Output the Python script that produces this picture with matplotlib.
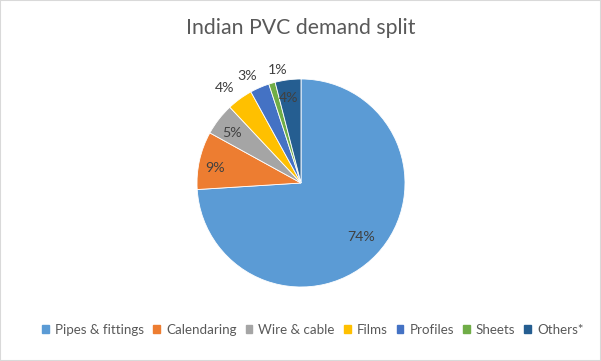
import numpy as np
import matplotlib
matplotlib.use('Agg')
import matplotlib.pyplot as plt
from matplotlib.patches import Rectangle

# data
categories = ['Pipes & fittings', 'Calendaring', 'Wire & cable', 'Films',
              'Profiles', 'Sheets', 'Others*']
shares = [74, 9, 5, 4, 3, 1, 4]
colors = ['#5B9BD5', '#ED7D31', '#A5A5A5', '#FFC000', '#4472C4', '#70AD47', '#255E91']
# label placement (fraction of radius, angle tweak in deg), Excel "best fit" look
label_r = [0.78, 0.84, 0.82, 1.17, 1.15, 1.11, 0.83]
label_dt = [1, 2.6, 2, 3, 3.4, -4.3, 1]

plt.rcParams['font.family'] = ['Lato', 'DejaVu Sans']

W, H = 601, 361
fig = plt.figure(figsize=(W / 100, H / 100), dpi=100)
fig.patch.set_facecolor('white')
fig.patches.append(Rectangle((0, 0), 1, 1, transform=fig.transFigure,
                             fill=False, edgecolor='#D9D9D9', lw=1.5))

# pie centre (301,183) px, radius 104 px
cx, cy, r = 301, 183, 104
lim = 1.3
side = 2 * lim * r
ax = fig.add_axes([(cx - side / 2) / W, (H - cy - side / 2) / H, side / W, side / H])

wedges, _ = ax.pie(shares, colors=colors, startangle=90, counterclock=False,
                   wedgeprops=dict(edgecolor='white', linewidth=0.6))
ax.set_xlim(-lim, lim)
ax.set_ylim(-lim, lim)
ax.set_aspect('equal')
ax.axis('off')

for w, v, rr, dt in zip(wedges, shares, label_r, label_dt):
    mid = np.deg2rad((w.theta1 + w.theta2) / 2 + dt)
    ax.text(rr * np.cos(mid), rr * np.sin(mid), f'{v}%', ha='center', va='center',
            fontsize=10.2, color='#404040')

fig.text(0.5, (H - 28) / H, 'Indian PVC demand split', ha='center', va='center',
         fontsize=15.3, color='#595959')

handles = [Rectangle((0, 0), 1, 1, color=c) for c in colors]
fig.legend(handles, categories, loc='center', bbox_to_anchor=(313 / W, (H - 330) / H),
           ncol=7, frameon=False, fontsize=9.6, handlelength=0.52, handleheight=0.52,
           handletextpad=0.45, columnspacing=0.67, labelcolor='#595959')

fig.savefig('out.png', dpi=100)
